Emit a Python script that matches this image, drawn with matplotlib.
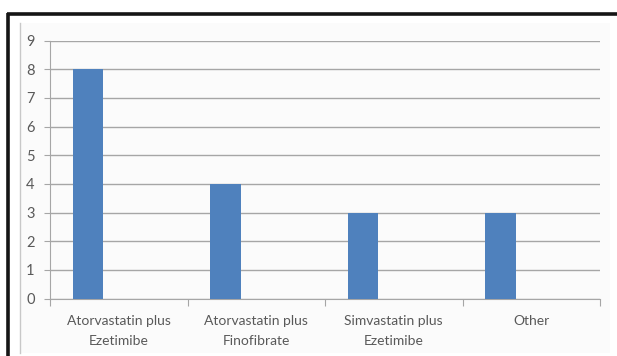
import matplotlib
matplotlib.use("Agg")
import matplotlib.pyplot as plt
from matplotlib.patches import Rectangle
from matplotlib.lines import Line2D
import numpy as np

categories = ["Atorvastatin plus\nEzetimibe", "Atorvastatin plus\nFinofibrate",
              "Simvastatin plus\nEzetimibe", "Other"]
values = [8, 4, 3, 3]
y_ticks = list(range(0, 10))

W, H = 617, 356
fig = plt.figure(figsize=(W / 100, H / 100), dpi=100)
fig.patch.set_facecolor("white")

def fx(px):
    return px / W

def fy(py):
    return 1 - py / H

# chart area panel
fig.patches.append(Rectangle((fx(20), fy(353)), fx(610) - fx(20), fy(23) - fy(353),
                             transform=fig.transFigure, facecolor="#fbfbfb",
                             edgecolor="none", zorder=-2))
fig.lines.append(Line2D([fx(20), fx(20)], [fy(23), fy(353)], transform=fig.transFigure,
                        color="#c8c8c8", lw=1.0, zorder=-1))
# dark frame
fig.lines.append(Line2D([fx(7), fx(617)], [fy(14), fy(14)], transform=fig.transFigure,
                        color="#151515", lw=2.6, zorder=-1, solid_capstyle="butt"))
fig.lines.append(Line2D([fx(8), fx(8)], [fy(13), fy(356)], transform=fig.transFigure,
                        color="#151515", lw=2.6, zorder=-1, solid_capstyle="butt"))

ax = fig.add_axes([fx(50), fy(298.5), fx(600) - fx(50), fy(40.5) - fy(298.5)])
ax.set_facecolor("none")

n_series = 3
bar_w = 1 / (n_series + 1.5)
x = np.arange(len(categories))
ax.bar(x - bar_w, values, width=bar_w, color="#4f81bd", zorder=3)

ax.set_xlim(-0.5, len(categories) - 0.5)
ax.set_ylim(0, 9)
ax.set_yticks(y_ticks)
ax.yaxis.grid(True, color="#a6a6a6", lw=1.0)
ax.set_axisbelow(True)

font = "Lato"
txt_color = "#595959"
ax.set_yticklabels([str(v) for v in y_ticks], fontsize=10.5, color=txt_color, family=font)
ax.tick_params(axis="y", length=4, color="#a6a6a6", pad=7)

ax.set_xticks(np.arange(len(categories) + 1) - 0.5)
ax.set_xticklabels([])
ax.tick_params(axis="x", which="major", length=5, color="#a6a6a6")
ax.set_xticks(x, minor=True)
ax.set_xticklabels(categories, minor=True, fontsize=10, color=txt_color, family=font,
                   linespacing=1.75)
ax.tick_params(axis="x", which="minor", length=0, pad=12)

for s in ["top", "right"]:
    ax.spines[s].set_visible(False)
ax.spines["left"].set_color("#a6a6a6")
ax.spines["bottom"].set_color("#a6a6a6")

fig.savefig("out.png", dpi=100)
